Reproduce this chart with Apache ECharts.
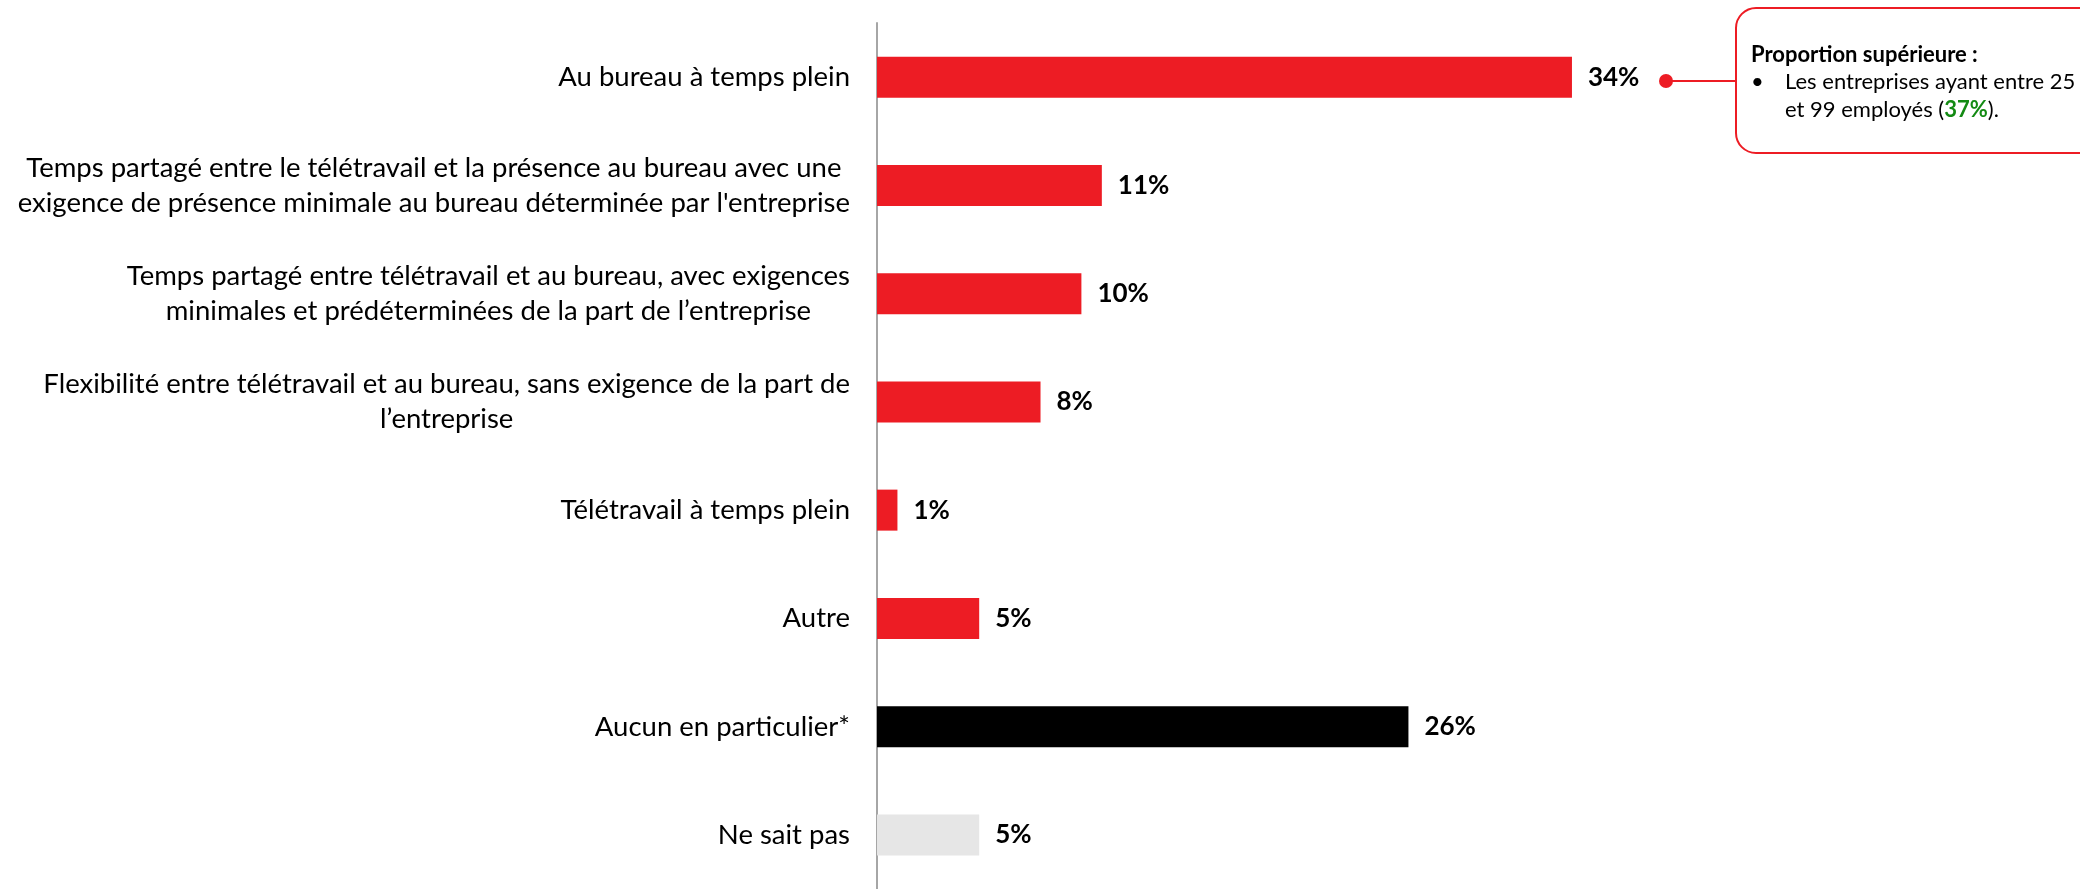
<!DOCTYPE html>
<html>
<head>
<meta charset="utf-8">
<script src="https://cdn.jsdelivr.net/npm/echarts@6/dist/echarts.min.js"></script>
<style>
  html, body { margin: 0; padding: 0; background: #ffffff; }
  #chart { width: 2080px; height: 889px; }
</style>
</head>
<body>
<div id="chart"></div>
<script>
// Modes de travail privilégiés (% des entreprises)
const categories = [
  'Au bureau à temps plein',
  'Temps partagé entre le télétravail et la présence au bureau avec une\nexigence de présence minimale au bureau déterminée par l\'entreprise',
  'Temps partagé entre télétravail et au bureau, avec exigences\nminimales et prédéterminées de la part de l’entreprise',
  'Flexibilité entre télétravail et au bureau, sans exigence de la part de\nl’entreprise',
  'Télétravail à temps plein',
  'Autre',
  'Aucun en particulier*',
  'Ne sait pas'
];
const values = [34, 11, 10, 8, 1, 5, 26, 5];
const barColors = ['#ED1C24', '#ED1C24', '#ED1C24', '#ED1C24', '#ED1C24', '#ED1C24', '#000000', '#E6E6E6'];

const calloutTitle = 'Proportion supérieure :';
const calloutLine1 = 'Les entreprises ayant entre 25';
const calloutLine2a = 'et 99 employés (';
const calloutHighlight = '37%';
const calloutLine2b = ').';

const FONT = 'Lato, "Open Sans", sans-serif';
const LABEL_SIZE = 27.5;
const LABEL_LINE = 35;
const LABEL_GAP = 27;

const chart = echarts.init(document.getElementById('chart'), null, { renderer: 'canvas' });

// note box beside the top bar
const calloutGraphics = [
  { type: 'line', shape: { x1: 1666, y1: 81, x2: 1736, y2: 81 }, style: { stroke: '#ED1C24', lineWidth: 2 } },
  { type: 'circle', shape: { cx: 1666, cy: 81, r: 7 }, style: { fill: '#ED1C24' } },
  { type: 'rect', shape: { x: 1736, y: 8, width: 380, height: 145, r: 20 }, style: { fill: '#ffffff', stroke: '#ED1C24', lineWidth: 2 } },
  { type: 'text', x: 1751, y: 55, style: { text: calloutTitle, fontFamily: FONT, fontWeight: 'bold', fontSize: 22, fill: '#000000', verticalAlign: 'middle' } },
  { type: 'text', x: 1751, y: 82, style: { text: '•', fontFamily: FONT, fontSize: 22, fill: '#000000', verticalAlign: 'middle' } },
  { type: 'text', x: 1785, y: 82, style: { text: calloutLine1, fontFamily: FONT, fontSize: 22, fill: '#000000', verticalAlign: 'middle' } },
  { type: 'text', x: 1785, y: 110, style: {
      text: '{n|' + calloutLine2a + '}{g|' + calloutHighlight + '}{n|' + calloutLine2b + '}',
      verticalAlign: 'middle',
      rich: {
        n: { fontFamily: FONT, fontSize: 22, fill: '#000000' },
        g: { fontFamily: FONT, fontSize: 22, fontWeight: 'bold', fill: '#138A13' }
      }
    } }
];

const option = {
  animation: false,
  backgroundColor: '#ffffff',
  grid: { left: 877, top: 23, width: 1022, height: 870, containLabel: false },
  xAxis: {
    type: 'value', min: 0, max: 50, show: false,
    splitLine: { show: false }
  },
  yAxis: {
    type: 'category',
    data: categories,
    inverse: true,
    axisLine: { show: true, lineStyle: { color: '#A6A6A6', width: 2 } },
    axisTick: { show: false },
    axisLabel: { show: false }
  },
  series: [{
    type: 'bar',
    barWidth: 41,
    data: values.map(function (v, i) {
      return { value: v, itemStyle: { color: barColors[i] } };
    }),
    label: {
      show: true,
      position: 'right',
      distance: 16,
      formatter: '{c}%',
      fontFamily: FONT,
      fontWeight: 'bold',
      fontSize: 26,
      color: '#000000'
    }
  }],
  graphic: calloutGraphics
};

chart.setOption(option);

// Category names: each block sits right-aligned against the axis,
// with its wrapped lines centred inside the block.
const ctx = document.createElement('canvas').getContext('2d');
ctx.font = LABEL_SIZE + 'px Lato';
const labelRight = chart.convertToPixel({ xAxisIndex: 0 }, 0) - LABEL_GAP;
const labelGraphics = categories.map(function (name, i) {
  const lines = name.split('\n');
  const blockW = Math.max.apply(null, lines.map(function (l) { return ctx.measureText(l).width; }));
  const cy = chart.convertToPixel({ yAxisIndex: 0 }, i);
  return {
    type: 'text',
    x: labelRight - blockW / 2,
    y: cy,
    style: {
      text: name,
      align: 'center',
      verticalAlign: 'middle',
      fontFamily: FONT,
      fontSize: LABEL_SIZE,
      lineHeight: LABEL_LINE,
      fill: '#000000'
    }
  };
});

chart.setOption({ graphic: calloutGraphics.concat(labelGraphics) });
</script>
</body>
</html>
